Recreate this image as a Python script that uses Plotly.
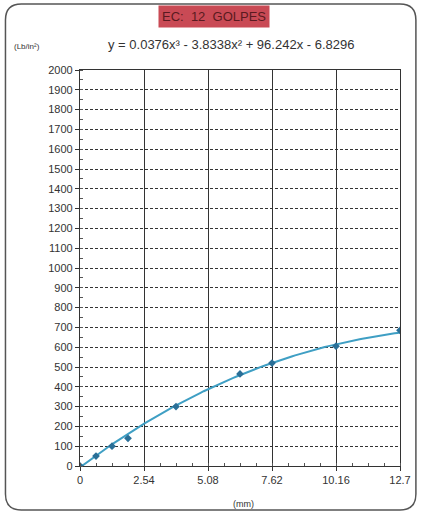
import plotly.graph_objects as go
import numpy as np

# Data
pen_mm = [0, 0.635, 1.27, 1.905, 3.81, 6.35, 7.62, 10.16, 12.7]
load = [0, 50, 100, 140, 300, 465, 520, 605, 685]
# trendline coefficients printed on the chart (cubic, highest power first)
coefs = [0.0376, -3.8338, 96.242, -6.8296]
x_ticks = [0, 2.54, 5.08, 7.62, 10.16, 12.7]
x_tick_labels = ["0", "2.54", "5.08", "7.62", "10.16", "12.7"]
y_ticks = list(range(0, 2001, 100))

xs = np.linspace(0, 12.7, 120)
ys = np.polyval(coefs, xs)

fig = go.Figure()
fig.add_trace(go.Scatter(x=xs, y=ys, mode="lines",
                         line=dict(color="#3f9fc4", width=2), hoverinfo="skip"))
fig.add_trace(go.Scatter(x=pen_mm, y=load, mode="markers",
                         marker=dict(color="#2a6f97", size=6, symbol="diamond")))

W, H = 423, 514
# plot area in window pixels
PL, PR, PT, PB = 80, 402, 70, 466
L, T = PL, PT
R, B = W - PR, H - PB
pw, ph = PR - PL, PB - PT

def px_x(p):
    return (p - PL) / pw

def px_y(p):
    return 1 - (p - PT) / ph

x0, x1 = px_x(5), px_x(418)
y0, y1 = px_y(510), px_y(4)
rx, ry = 16 / pw, 16 / ph
path = (f"M {x0+rx},{y1} L {x1-rx},{y1} Q {x1},{y1} {x1},{y1-ry} "
        f"L {x1},{y0+ry} Q {x1},{y0} {x1-rx},{y0} L {x0+rx},{y0} "
        f"Q {x0},{y0} {x0},{y0+ry} L {x0},{y1-ry} Q {x0},{y1} {x0+rx},{y1} Z")

def label(text, x, y, size, color="#333", **kw):
    return dict(text=text, xref="paper", yref="paper", x=px_x(x), y=px_y(y),
                xanchor="center", yanchor="middle", showarrow=False,
                font=dict(size=size, color=color), **kw)

fig.update_layout(
    width=W, height=H,
    margin=dict(l=L, r=R, t=T, b=B),
    paper_bgcolor="white", plot_bgcolor="white",
    showlegend=False,
    font=dict(family="Liberation Sans, Arial", size=10, color="#333"),
    shapes=[dict(type="path", xref="paper", yref="paper", path=path,
                 line=dict(color="#555", width=1.5), layer="below")],
    annotations=[
        label("EC:  12  GOLPES", 215, 16, 13, "#5a1a20",
              bgcolor="#c94a55", borderpad=3),
        label("y = 0.0376x³ - 3.8338x² + 96.242x - 6.8296", 232, 45, 13),
        label("(Lb/in²)", 27, 46, 8),
        label("(mm)", 245, 504, 9),
    ],
)
fig.update_xaxes(range=[0, 12.7], tickvals=x_ticks, ticktext=x_tick_labels,
                 showgrid=True, gridcolor="#333", gridwidth=1.2,
                 showline=True, linecolor="#333", linewidth=1.2, mirror=True,
                 ticks="outside", ticklen=4, tickcolor="#333",
                 minor=dict(dtick=0.635, ticks="inside", ticklen=3, tickcolor="#555"),
                 zeroline=False, tickfont=dict(size=11))
fig.update_yaxes(range=[0, 2000], tickvals=y_ticks,
                 showgrid=True, gridcolor="#333", gridwidth=1.2, griddash="3px,2px",
                 showline=True, linecolor="#333", linewidth=1.2, mirror=True,
                 ticks="outside", ticklen=4, tickcolor="#333",
                 minor=dict(dtick=50, ticks="inside", ticklen=3, tickcolor="#555"),
                 zeroline=False, tickfont=dict(size=11))

fig.write_html("out.html", config={"displayModeBar": False},
               post_script="document.body.style.margin='0';document.body.style.overflow='hidden';")
